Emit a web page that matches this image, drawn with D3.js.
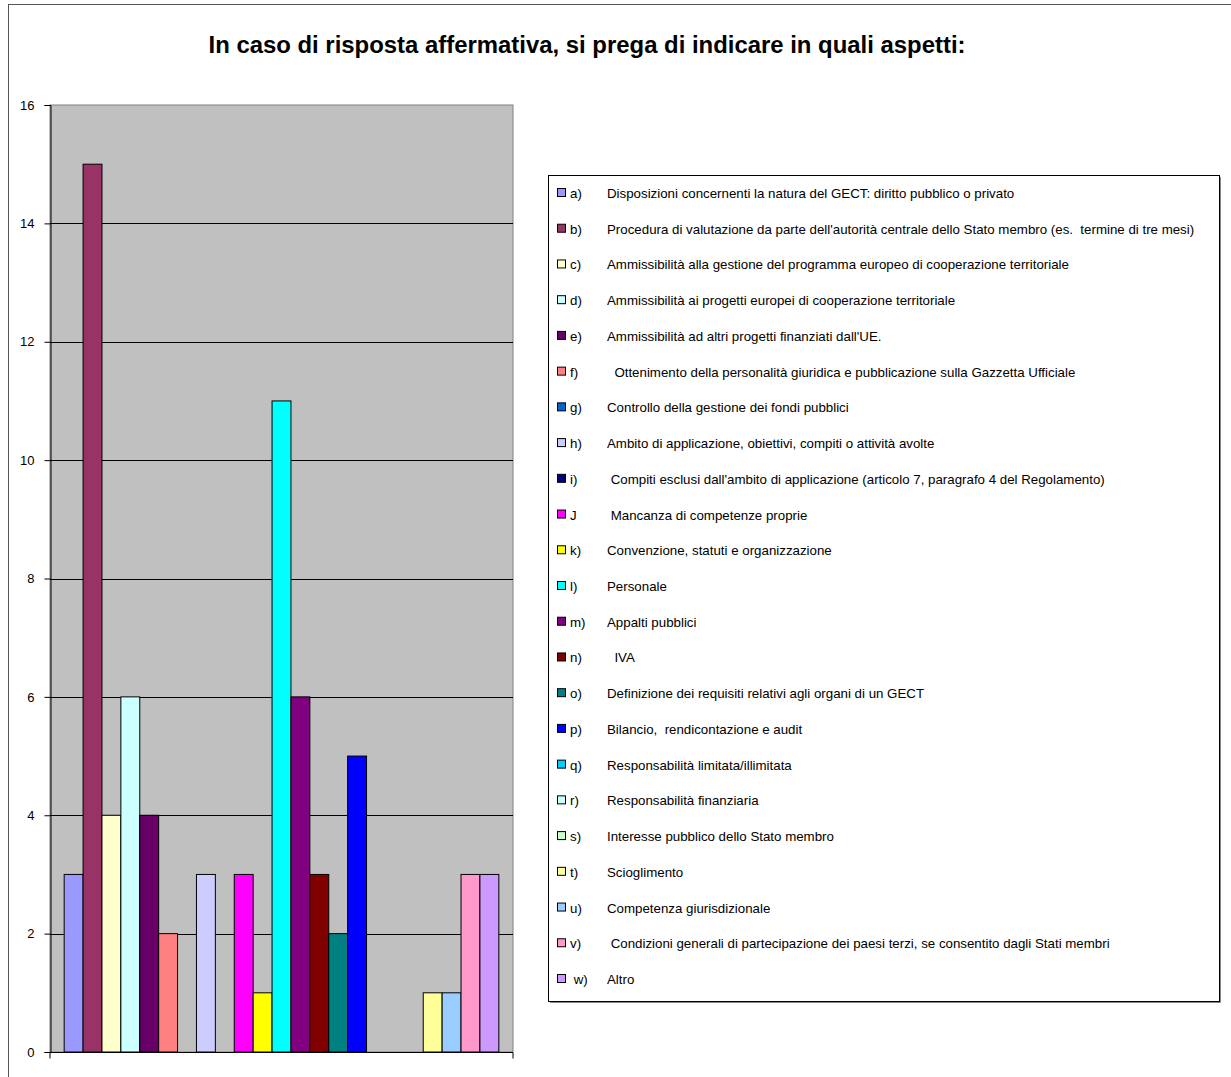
<!DOCTYPE html>
<html>
<head>
<meta charset="utf-8">
<script src="https://cdn.jsdelivr.net/npm/d3@7"></script>
<style>
  html, body { margin: 0; padding: 0; background: #fff; }
  svg { display: block; font-family: "Liberation Sans", Arial, sans-serif; }
</style>
</head>
<body>
<svg id="chart" width="1231" height="1077"></svg>
<script>
// Survey answers: one bar per aspect
const titleText = "In caso di risposta affermativa, si prega di indicare in quali aspetti:";
const keys = ["a)", "b)", "c)", "d)", "e)", "f)", "g)", "h)", "i)", "J", "k)", "l)", "m)", "n)", "o)", "p)", "q)", "r)", "s)", "t)", "u)", "v)", " w)"];
const labels = [
  "Disposizioni concernenti la natura del GECT: diritto pubblico o privato",
  "Procedura di valutazione da parte dell'autorità centrale dello Stato membro (es.  termine di tre mesi)",
  "Ammissibilità alla gestione del programma europeo di cooperazione territoriale",
  "Ammissibilità ai progetti europei di cooperazione territoriale",
  "Ammissibilità ad altri progetti finanziati dall'UE.",
  "  Ottenimento della personalità giuridica e pubblicazione sulla Gazzetta Ufficiale",
  "Controllo della gestione dei fondi pubblici",
  "Ambito di applicazione, obiettivi, compiti o attività avolte",
  " Compiti esclusi dall'ambito di applicazione (articolo 7, paragrafo 4 del Regolamento)",
  " Mancanza di competenze proprie",
  "Convenzione, statuti e organizzazione",
  "Personale",
  "Appalti pubblici",
  "  IVA",
  "Definizione dei requisiti relativi agli organi di un GECT",
  "Bilancio,  rendicontazione e audit",
  "Responsabilità limitata/illimitata",
  "Responsabilità finanziaria",
  "Interesse pubblico dello Stato membro",
  "Scioglimento",
  "Competenza giurisdizionale",
  " Condizioni generali di partecipazione dei paesi terzi, se consentito dagli Stati membri",
  "Altro"
];
const values = [3, 15, 4, 6, 4, 2, 0, 3, 0, 3, 1, 11, 6, 3, 2, 5, 0, 0, 0, 1, 1, 3, 3];
const colors = ["#9999FF", "#993366", "#FFFFCC", "#CCFFFF", "#660066", "#FF8080", "#0066CC", "#CCCCFF",
                "#000080", "#FF00FF", "#FFFF00", "#00FFFF", "#800080", "#800000", "#008080", "#0000FF",
                "#00CCFF", "#CCFFFF", "#CCFFCC", "#FFFF99", "#99CCFF", "#FF99CC", "#CC99FF"];
const yTicks = [0, 2, 4, 6, 8, 10, 12, 14, 16];

const svg = d3.select("#chart");

// outer chart frame
svg.append("rect")
  .attr("x", 8.5).attr("y", 4.5)
  .attr("width", 1240).attr("height", 1090)
  .attr("fill", "#fff").attr("stroke", "#555").attr("stroke-width", 1);

// title
svg.append("text")
  .attr("x", 587).attr("y", 53)
  .attr("text-anchor", "middle")
  .attr("font-size", 23).attr("font-weight", "bold")
  .attr("textLength", 757).attr("lengthAdjust", "spacingAndGlyphs")
  .text(titleText);

// plot area
const plot = { left: 50, right: 513, top: 105, bottom: 1052 };
const y = d3.scaleLinear().domain([0, 16]).range([plot.bottom, plot.top]);

// one category; Excel-style gap of 150% of a bar width
const barW = (plot.right - plot.left) / (keys.length + 1.5);
const x = d3.scaleBand()
  .domain(d3.range(keys.length))
  .range([plot.left + 0.75 * barW, plot.right - 0.75 * barW])
  .padding(0);

svg.append("rect")
  .attr("x", plot.left).attr("y", plot.top)
  .attr("width", plot.right - plot.left).attr("height", plot.bottom - plot.top)
  .attr("fill", "#C0C0C0").attr("stroke", "#808080").attr("stroke-width", 1);

// gridlines
svg.append("g")
  .selectAll("line")
  .data(yTicks.filter(t => t > 0 && t < 16))
  .join("line")
  .attr("x1", plot.left).attr("x2", plot.right)
  .attr("y1", d => Math.round(y(d)) + 0.5).attr("y2", d => Math.round(y(d)) + 0.5)
  .attr("stroke", "#000").attr("stroke-width", 1);

// bars
svg.append("g")
  .selectAll("rect")
  .data(values.map((v, i) => ({ v, i })))
  .join("rect")
  .attr("x", d => x(d.i))
  .attr("y", d => y(d.v))
  .attr("width", x.bandwidth())
  .attr("height", d => y(0) - y(d.v))
  .attr("fill", d => colors[d.i])
  .attr("stroke", "#000").attr("stroke-width", 1)
  .attr("display", d => d.v > 0 ? null : "none");

// y axis
const yAxis = d3.axisLeft(y).tickValues(yTicks).tickSize(6).tickPadding(10);
const gy = svg.append("g")
  .attr("transform", `translate(${plot.left + 0.5},0)`)
  .call(yAxis);
gy.select(".domain").attr("stroke", "#000");
gy.selectAll(".tick line").attr("stroke", "#000");
gy.selectAll(".tick text").attr("font-size", 13).attr("fill", "#000")
  .attr("font-family", "Liberation Sans, Arial, sans-serif");

// x axis line with end ticks
const x0 = d3.scaleBand().domain([""]).range([plot.left, plot.right]);
const xAxis = d3.axisBottom(x0).tickSize(0).tickFormat(() => "");
const gx = svg.append("g")
  .attr("transform", `translate(0,${plot.bottom + 0.5})`)
  .call(xAxis);
gx.select(".domain").attr("stroke", "#000").attr("d", `M${plot.left},6V0H${plot.right}V6`);

// legend
const legend = { x: 548, y: 175, w: 671, h: 826 };
svg.append("rect")
  .attr("x", legend.x + 0.5).attr("y", legend.y + 0.5)
  .attr("width", legend.w).attr("height", legend.h)
  .attr("fill", "#fff").attr("stroke", "#000").attr("stroke-width", 1);
svg.append("path")
  .attr("d", `M${legend.x + legend.w + 1.5},${legend.y + 2}V${legend.y + legend.h + 1.5}H${legend.x + 2}`)
  .attr("fill", "none").attr("stroke", "#888").attr("stroke-width", 1);

const rowY = d3.scalePoint().domain(d3.range(keys.length)).range([193, 979]);
const items = svg.append("g").selectAll("g")
  .data(keys.map((k, i) => ({ k, i })))
  .join("g")
  .attr("transform", d => `translate(0,${rowY(d.i)})`);
items.append("rect")
  .attr("x", 557.5).attr("y", -4.5)
  .attr("width", 8).attr("height", 8)
  .attr("fill", d => colors[d.i]).attr("stroke", "#000").attr("stroke-width", 1);
items.append("text")
  .attr("x", 570).attr("y", 5)
  .attr("font-size", 13.3)
  .style("white-space", "pre")
  .text(d => d.k);
items.append("text")
  .attr("x", 607).attr("y", 5)
  .attr("font-size", 13.3)
  .style("white-space", "pre")
  .text(d => labels[d.i]);
</script>
</body>
</html>
